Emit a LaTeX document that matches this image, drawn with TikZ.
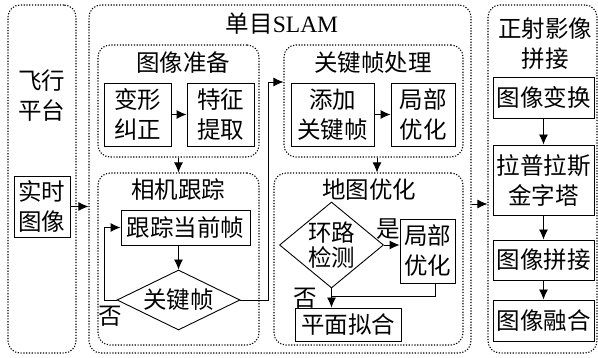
\documentclass[tikz,border=0pt]{standalone}
\usepackage{fontspec}
\setmainfont{Liberation Serif}
\newfontfamily\cjk{Noto Sans CJK SC}
\usetikzlibrary{arrows.meta,shapes.geometric}
\begin{document}
\begin{tikzpicture}[x=1pt,y=-1pt,
  font=\cjk\fontsize{23.5}{30}\selectfont,
  box/.style={draw,line width=0.9pt,inner sep=0pt,align=center},
  dia/.style={draw,diamond,line width=0.9pt,inner sep=0pt},
  grp/.style={draw,line width=1.1pt,dash pattern=on 1.2pt off 1.6pt,rounded corners=12pt,inner sep=0pt},
  arr/.style={line width=0.9pt,-{Latex[length=10pt,width=9pt]}},
  lnk/.style={line width=0.9pt},
  lbl/.style={inner sep=0pt,align=center}
]
\useasboundingbox (0,0) rectangle (598,358);
% outer groups
\node[grp,minimum width=68pt,minimum height=348pt] (fly) at (42,179) {};
\node[grp,minimum width=382pt,minimum height=348pt] (slam) at (280,179) {};
\node[grp,minimum width=109pt,minimum height=348pt] (ortho) at (542.5,179) {};
% inner groups
\node[grp,minimum width=161pt,minimum height=112pt] (prep) at (178.5,101) {};
\node[grp,minimum width=179pt,minimum height=112pt] (kfp) at (373.5,101) {};
\node[grp,minimum width=161pt,minimum height=172pt] (track) at (178.5,259) {};
\node[grp,minimum width=189pt,minimum height=172pt] (map) at (368.5,259) {};
% titles
\node[lbl] (tfly) at (42,96) {飞行\\平台};
\node[lbl] (tslam) at (282,24) {单目\rmfamily SLAM};
\node[lbl] (tortho) at (545,44) {正射影像\\拼接};
\node[lbl] (tprep) at (183,63) {图像准备};
\node[lbl] (tkfp) at (373,63) {关键帧处理};
\node[lbl] (ttrack) at (178,190) {相机跟踪};
\node[lbl] (tmap) at (369,190) {地图优化};
% boxes
\node[box,minimum width=67pt,minimum height=63pt] (bx) at (137.5,114.5) {变形\\纠正};
\node[box,minimum width=67pt,minimum height=63pt] (tz) at (220.5,114.5) {特征\\提取};
\node[box,minimum width=83pt,minimum height=63pt] (tj) at (332.5,114.5) {添加\\关键帧};
\node[box,minimum width=64pt,minimum height=63pt] (jb) at (423,114.5) {局部\\优化};
\node[box,minimum width=56pt,minimum height=61pt] (rt) at (42,206.5) {实时\\图像};
\node[box,minimum width=129pt,minimum height=35pt] (cur) at (185.5,227.5) {跟踪当前帧};
\node[dia,minimum width=123pt,minimum height=60pt] (kf) at (178.5,300) {};
\node[lbl] (kft) at (kf) {关键帧};
\node[dia,minimum width=104pt,minimum height=86pt] (loop) at (331.5,245) {};
\node[lbl,font=\cjk\fontsize{23.5}{25.5}\selectfont] (loopt) at (loop) {环路\\检测};
\node[box,minimum width=55pt,minimum height=64pt] (lo2) at (427.5,251) {局部\\优化};
\node[box,minimum width=106pt,minimum height=33pt] (plane) at (348,324.5) {平面拟合};
\node[box,minimum width=101pt,minimum height=41pt] (r1) at (543.5,97.5) {图像变换};
\node[box,minimum width=101pt,minimum height=70pt] (r2) at (543.5,180) {拉普拉斯\\金字塔};
\node[box,minimum width=101pt,minimum height=40pt] (r3) at (543.5,260) {图像拼接};
\node[box,minimum width=101pt,minimum height=41pt] (r4) at (543.5,320.5) {图像融合};
% labels
\node[lbl] (no1) at (110,316) {否};
\node[lbl] (yes) at (388,229) {是};
\node[lbl] (no2) at (305,298) {否};
% connectors
\draw[arr] (bx.east) -- (tz.west);
\draw[arr] (tj.east) -- (jb.west);
\draw[arr] (prep.south) -- (track.north);
\draw[arr] ([xshift=3.5pt]kfp.south) -- ([xshift=3.5pt]kfp.south |- map.north);
\draw[arr] (rt.east) -- (rt.east -| slam.west);
\path (slam.east) ++(0,25) coordinate (sa);
\draw[arr] (sa) -- (sa -| ortho.west);
\draw[arr] (cur.south -| kf.north) -- (kf.north);
\draw[arr] (kf.west) -- ++(-12,0) |- (cur.west);
\draw[arr] (kf.east) -- ++(28,0) |- ([yshift=19pt]kfp.west);
\draw[arr] (loop.east) -- (loop.east -| lo2.west);
\draw[arr] (loop.south) -- (loop.south |- plane.north);
\coordinate (jn) at (331.5,296);
\draw[lnk] ([xshift=7.5pt]lo2.south) |- (jn);
\draw[arr] (r1.south) -- (r2.north);
\draw[arr] (r2.south) -- (r3.north);
\draw[arr] (r3.south) -- (r4.north);
\end{tikzpicture}
\end{document}
